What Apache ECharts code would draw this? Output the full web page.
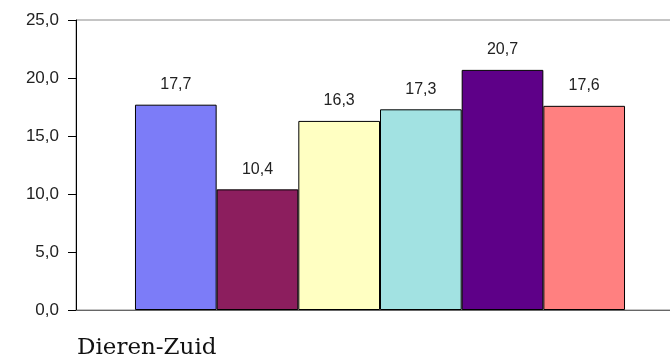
<!DOCTYPE html>
<html>
<head>
<meta charset="utf-8">
<script src="https://cdn.jsdelivr.net/npm/echarts@6/dist/echarts.min.js"></script>
<style>
html,body{margin:0;padding:0;background:#fff;overflow:hidden;width:670px;height:363px;}
#c{width:684px;height:363px;}
</style>
</head>
<body>
<div id="c"></div>
<script>
var categories = ['Dieren-Zuid'];
var seriesNames = ['Serie 1', 'Serie 2', 'Serie 3', 'Serie 4', 'Serie 5', 'Serie 6'];
var seriesValues = [17.7, 10.4, 16.3, 17.3, 20.7, 17.6];
var barColors = ['#7c7cf8', '#8c1e5e', '#ffffc2', '#a2e2e2', '#5e0088', '#ff8080'];
var yTicks = [0, 5, 10, 15, 20, 25];

function fmt(v) { return v.toFixed(1).replace('.', ','); }

var chart = echarts.init(document.getElementById('c'), null, {renderer: 'canvas'});
var series = seriesNames.map(function (name, i) {
  return {
    name: name,
    type: 'bar',
    data: [seriesValues[i]],
    barGap: '0%',
    barCategoryGap: '19.4%',
    itemStyle: {color: barColors[i], borderColor: '#000', borderWidth: 1},
    label: {
      show: true,
      position: 'top',
      distance: 12,
      formatter: function (p) { return fmt(p.value); },
      fontFamily: 'Liberation Sans, Arial, sans-serif',
      fontSize: 16,
      color: '#222'
    }
  };
});

chart.setOption({
  animation: false,
  backgroundColor: '#fff',
  grid: {
    left: 76, top: 20, bottom: 53, right: 0,
    show: true, borderColor: '#8a8a8a', borderWidth: 1, backgroundColor: '#fff'
  },
  xAxis: {
    type: 'category',
    data: categories,
    axisLine: {lineStyle: {color: '#666', width: 1}},
    axisTick: {show: false},
    axisLabel: {show: false}
  },
  yAxis: {
    type: 'value',
    min: yTicks[0],
    max: yTicks[yTicks.length - 1],
    interval: 5,
    axisLine: {show: true, lineStyle: {color: '#000', width: 1}},
    axisTick: {show: true, length: 8, lineStyle: {color: '#000'}},
    splitLine: {show: false},
    axisLabel: {
      margin: 17,
      formatter: function (v) { return fmt(v); },
      fontFamily: 'Liberation Sans, Arial, sans-serif',
      fontSize: 17,
      color: '#222'
    }
  },
  graphic: [{
    type: 'text',
    left: 77,
    top: 337,
    style: {
      text: categories[0],
      fontFamily: 'DejaVu Serif, serif',
      fontSize: 23,
      fill: '#111'
    }
  }],
  series: series
});
</script>
</body>
</html>
